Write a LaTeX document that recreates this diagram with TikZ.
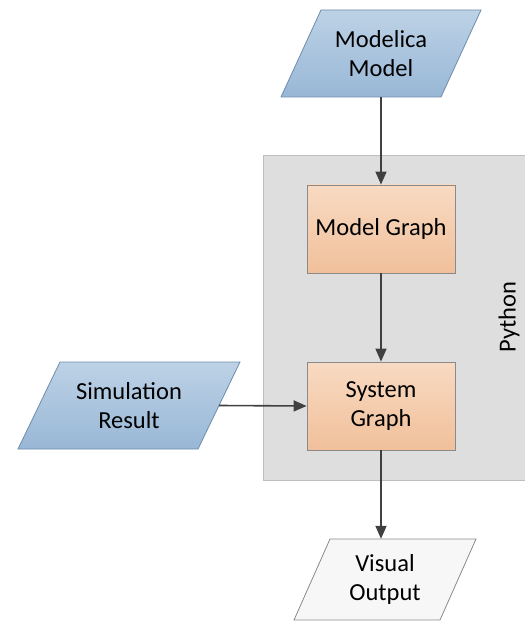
\documentclass[tikz,border=0pt]{standalone}
\usepackage{fontspec}
\setmainfont{Carlito}
\usetikzlibrary{arrows.meta,calc}

\definecolor{ioTop}{HTML}{BDD2E6}
\definecolor{ioBot}{HTML}{98B7D6}
\definecolor{ioLine}{HTML}{6E8CAB}
\definecolor{procTop}{HTML}{F8DAC2}
\definecolor{procBot}{HTML}{F1C09B}
\definecolor{procLine}{HTML}{8A8A8A}
\definecolor{frameFill}{HTML}{DEDEDE}
\definecolor{frameLine}{HTML}{BEBEBE}
\definecolor{outFill}{HTML}{F7F7F7}
\definecolor{outLine}{HTML}{8C8C8C}
\definecolor{wire}{HTML}{404040}

\tikzset{
  label text/.style={font=\fontsize{24.5}{29.5}\selectfont, align=center, text=black},
  slot/.style={label text, inner sep=0pt},
  procbox/.style={label text, draw=procLine, line width=0.8pt,
    top color=procTop, bottom color=procBot, inner sep=0pt},
  iopath/.style={draw=ioLine, line width=0.8pt, top color=ioTop, bottom color=ioBot},
  outpath/.style={draw=outLine, line width=0.8pt, fill=outFill},
  flow/.style={draw=wire, line width=1.6pt, -{Triangle[length=13pt,width=11pt]}},
}

\begin{document}
\begin{tikzpicture}[x=1pt,y=-1pt]
\useasboundingbox (0,0) rectangle (524,628);

% Python container
\draw[fill=frameFill, draw=frameLine, line width=1pt] (263,156) rectangle (530,480);
\node[label text, rotate=90] (py) at (509,317) {Python};

% Modelica Model (input parallelogram)
\path[iopath] (321,10) -- (481,10) -- (441,97) -- (281,97) -- cycle;
\node[slot, minimum width=160pt, minimum height=87pt] (mm) at (381,53.5) {Modelica\\Model};

% Simulation Result (input parallelogram)
\path[iopath] (60,362) -- (240,362) -- (198,449) -- (18,449) -- cycle;
\node[slot, minimum width=180pt, minimum height=87pt] (sr) at (129,405.5) {Simulation\\Result};

% Model Graph / System Graph processes
\node[procbox, minimum width=148pt, minimum height=88pt] (mg) at (381,229) {Model Graph};
\node[procbox, minimum width=148pt, minimum height=88pt] (sg) at (381,406) {System\\Graph};

% Visual Output (output parallelogram)
\path[outpath] (330,539) -- (476,539) -- (440,620) -- (294,620) -- cycle;
\node[slot, minimum width=146pt, minimum height=81pt] (vo) at (385,579.5) {Visual\\Output};

% Flow connectors
\draw[flow] (mm.south) -- (mg.north);
\draw[flow] (mg.south) -- (sg.north);
\draw[flow] (sr.east) -- (sg.west);
\draw[flow] (sg.south) -- (sg.south |- vo.north);
\end{tikzpicture}
\end{document}
